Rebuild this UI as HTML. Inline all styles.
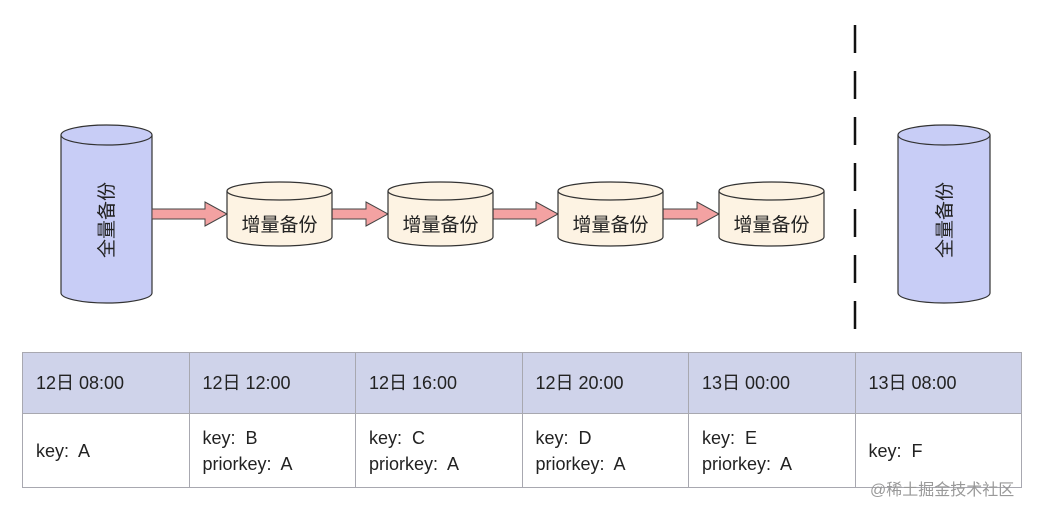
<!DOCTYPE html>
<html><head><meta charset="utf-8"><style>
body{margin:0;background:#fff;width:1049px;height:512px;overflow:hidden;position:relative;font-family:"Liberation Sans","Noto Sans CJK SC",sans-serif;}
svg{position:absolute;left:0;top:0}
table{position:absolute;left:22px;top:352px;border-collapse:collapse;table-layout:fixed;width:1000px;font-size:18px;color:#222}
td{border:1px solid #a8a8b0;padding:0 0 0 13px;vertical-align:middle;line-height:26px;box-sizing:border-box}
tr.h td{background:#cfd3ea;height:61px}
tr.b td{height:74px}
.wm{position:absolute;left:870px;top:476px;font-size:16px;color:#999}
</style></head><body>
<svg width="1049" height="512" font-family="Liberation Sans, Noto Sans CJK SC, sans-serif">
<g stroke="#333" stroke-width="1.2">
<path d="M61 135 V293 A45.5 10 0 0 0 152 293 V135" fill="#c8cdf6"/>
<ellipse cx="106.5" cy="135" rx="45.5" ry="10" fill="#c8cdf6"/>
<path d="M898 135 V293 A46 10 0 0 0 990 293 V135" fill="#c8cdf6"/>
<ellipse cx="944" cy="135" rx="46" ry="10" fill="#c8cdf6"/>
</g>
<g fill="#f3a2a2" stroke="#444" stroke-width="1">
<path d="M152 209 H205 V202 L227 214 L205 226 V219 H152 Z"/>
<path d="M332 209 H366 V202 L388 214 L366 226 V219 H332 Z"/>
<path d="M493 209 H536 V202 L558 214 L536 226 V219 H493 Z"/>
<path d="M663 209 H697 V202 L719 214 L697 226 V219 H663 Z"/>
</g>
<g stroke="#333" stroke-width="1.2" fill="#fdf3e3">
<path d="M227 191 V237 A52.5 9 0 0 0 332 237 V191"/><ellipse cx="279.5" cy="191" rx="52.5" ry="9"/>
<path d="M388 191 V237 A52.5 9 0 0 0 493 237 V191"/><ellipse cx="440.5" cy="191" rx="52.5" ry="9"/>
<path d="M558 191 V237 A52.5 9 0 0 0 663 237 V191"/><ellipse cx="610.5" cy="191" rx="52.5" ry="9"/>
<path d="M719 191 V237 A52.5 9 0 0 0 824 237 V191"/><ellipse cx="771.5" cy="191" rx="52.5" ry="9"/>
</g>
<g font-size="19" fill="#222" text-anchor="middle">
<text x="279.5" y="231">增量备份</text>
<text x="440.5" y="231">增量备份</text>
<text x="610.5" y="231">增量备份</text>
<text x="771.5" y="231">增量备份</text>
<text transform="translate(113 220) rotate(-90)">全量备份</text>
<text transform="translate(951 220) rotate(-90)">全量备份</text>
</g>
<line x1="855" y1="25" x2="855" y2="340" stroke="#111" stroke-width="2.5" stroke-dasharray="28 18"/>
</svg>
<table>
<tr class="h"><td>12日 08:00</td><td>12日 12:00</td><td>12日 16:00</td><td>12日 20:00</td><td>13日 00:00</td><td>13日 08:00</td></tr>
<tr class="b"><td>key:&nbsp; A</td><td>key:&nbsp; B<br>priorkey:&nbsp; A</td><td>key:&nbsp; C<br>priorkey:&nbsp; A</td><td>key:&nbsp; D<br>priorkey:&nbsp; A</td><td>key:&nbsp; E<br>priorkey:&nbsp; A</td><td>key:&nbsp; F</td></tr>
</table>
<div class="wm">@稀土掘金技术社区</div>
</body></html>
